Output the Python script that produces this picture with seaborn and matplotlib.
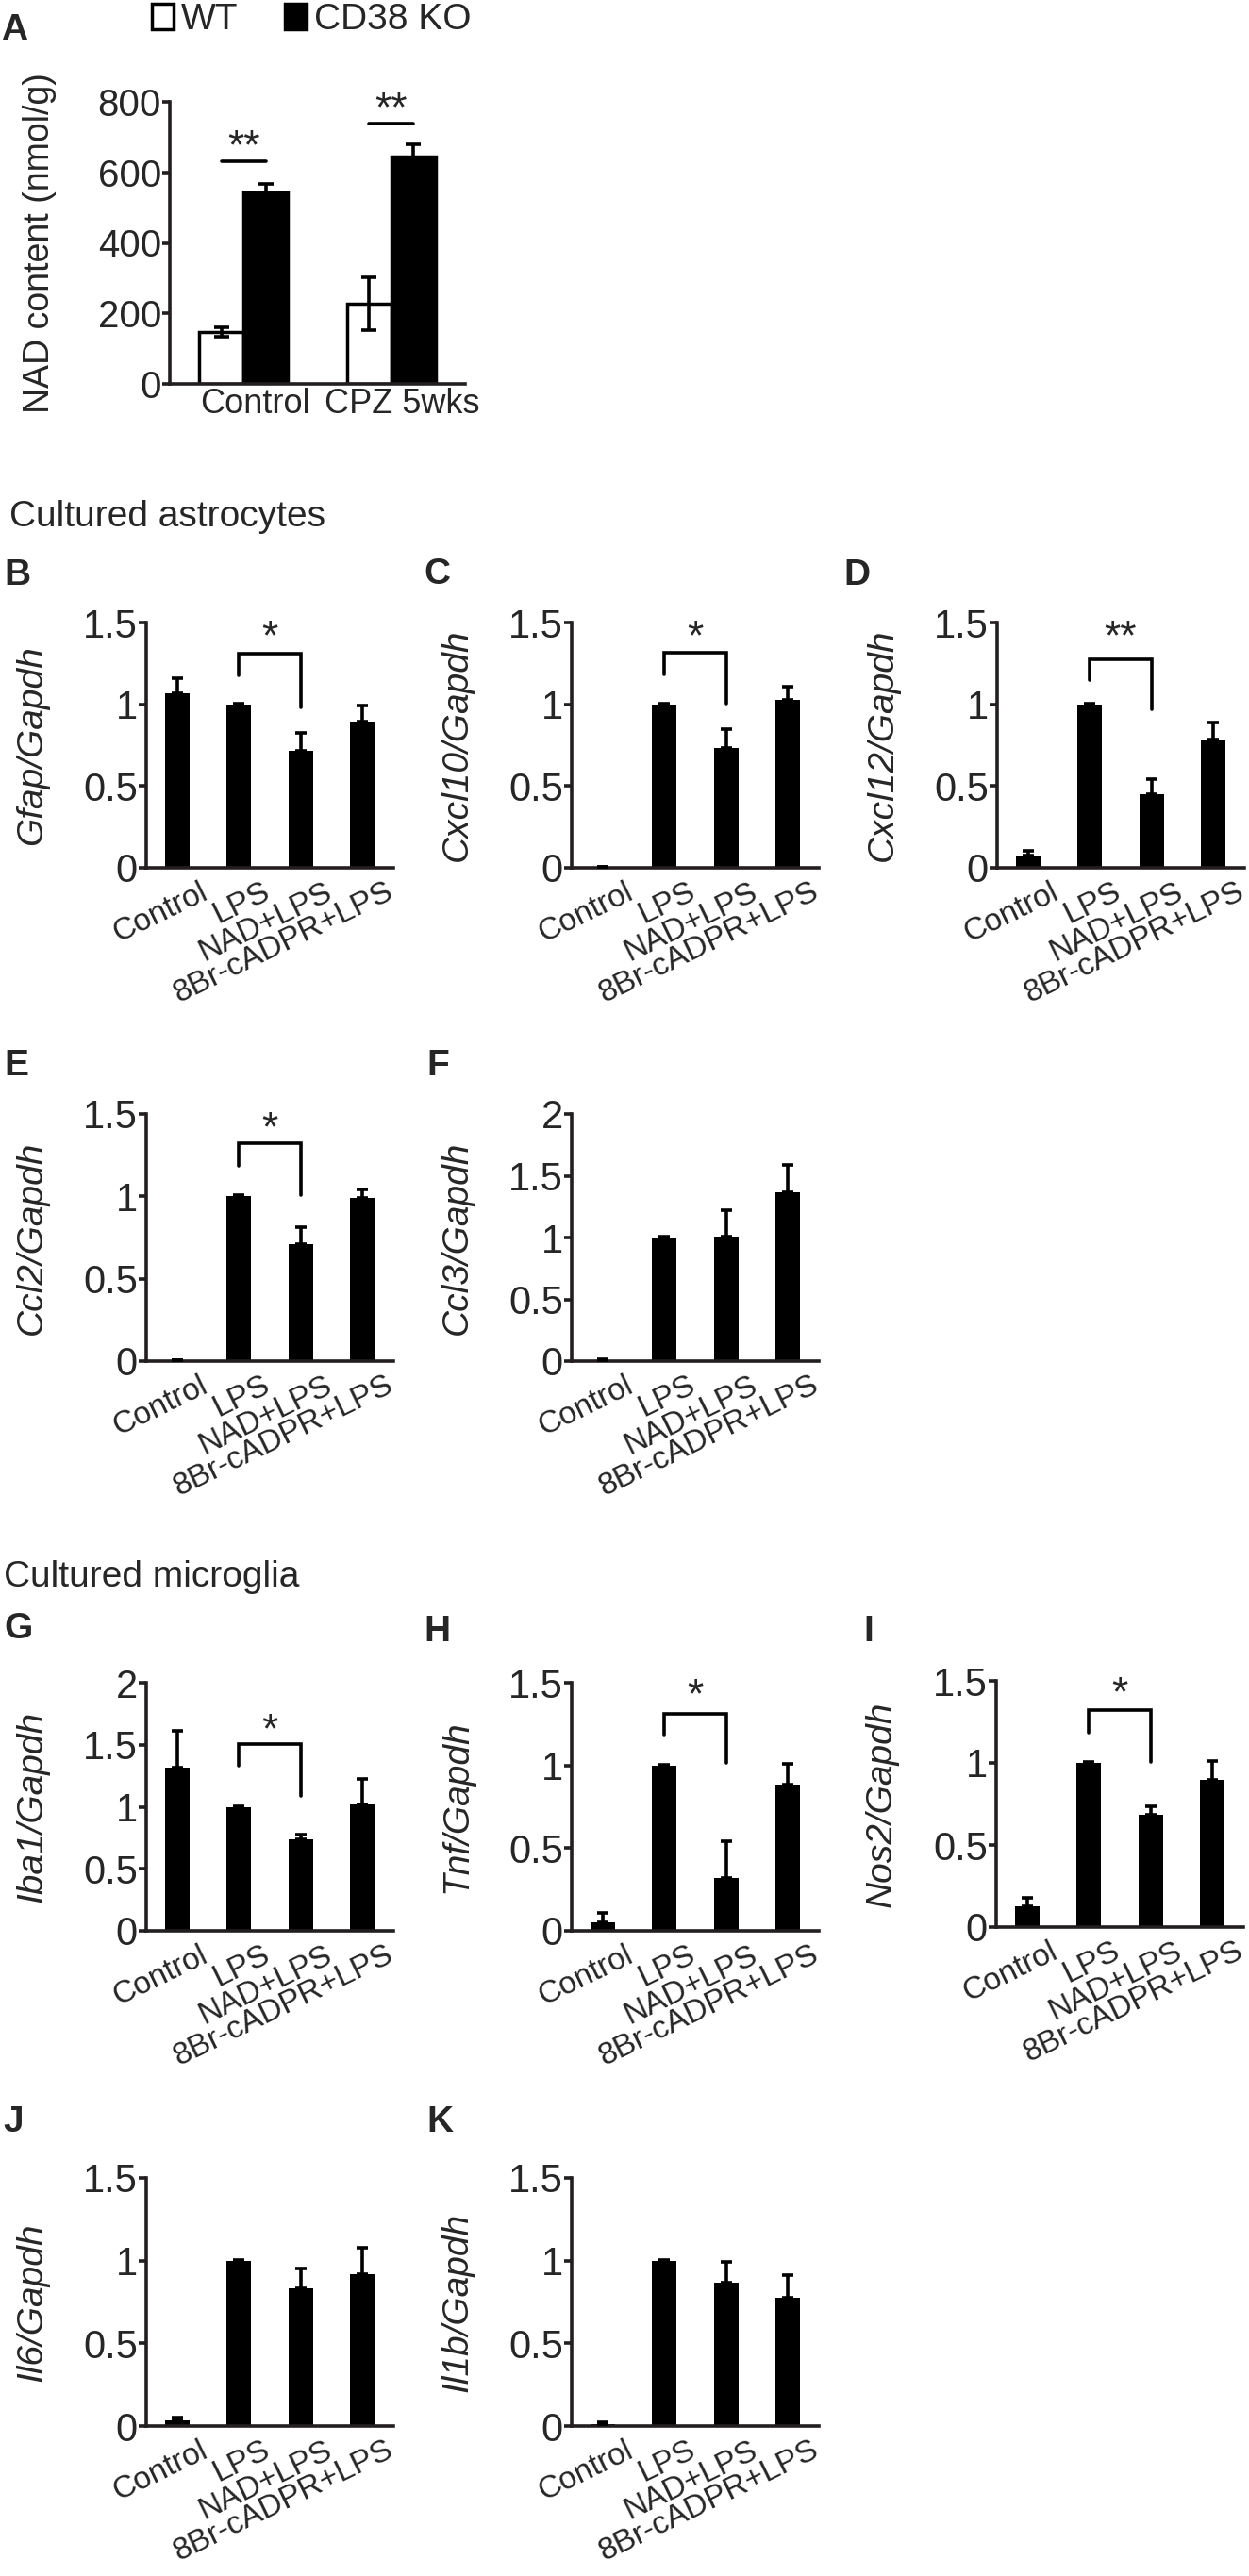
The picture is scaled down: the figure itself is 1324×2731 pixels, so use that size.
import numpy as np
import pandas as pd
import matplotlib
matplotlib.use("Agg")
import matplotlib.pyplot as plt
import seaborn as sns
from matplotlib.transforms import ScaledTranslation

# ---------------- data ----------------
a_conditions = ["Control", "CPZ 5wks"]
a_genotypes = ["WT", "CD38 KO"]
a_wt_mean = [147, 227]
a_wt_sem = [14, 75]
a_ko_mean = [543, 645]
a_ko_sem = [24, 35]
a_sig_line_y = [631, 738]
a_sig_star_y = [706, 813]
a_sig_label = ["**", "**"]
a_yticks = [0, 200, 400, 600, 800]

treatments = ["Control", "LPS", "NAD+LPS", "8Br-cADPR+LPS"]
yticks_15 = [0, 0.5, 1, 1.5]
yticks_2 = [0, 0.5, 1, 1.5, 2]

gfap_mean = [1.07, 1.0, 0.715, 0.894]
gfap_sem = [0.088, 0.005, 0.112, 0.096]
gfap_bracket = [1.31, 1.177, 0.98]
gfap_star = 1.48

cxcl10_mean = [0.003, 1.0, 0.73, 1.029]
cxcl10_sem = [0.002, 0.005, 0.116, 0.077]
cxcl10_bracket = [1.317, 1.183, 1.004]
cxcl10_star = 1.48

cxcl12_mean = [0.077, 1.0, 0.449, 0.784]
cxcl12_sem = [0.029, 0.005, 0.091, 0.102]
cxcl12_bracket = [1.277, 1.146, 0.969]
cxcl12_star = 1.48

ccl2_mean = [0.003, 1.0, 0.709, 0.99]
ccl2_sem = [0.002, 0.005, 0.105, 0.052]
ccl2_bracket = [1.321, 1.184, 1.008]
ccl2_star = 1.48

ccl3_mean = [0.01, 1.0, 1.007, 1.367]
ccl3_sem = [0.005, 0.005, 0.213, 0.22]

iba1_mean = [1.312, 1.0, 0.741, 1.02]
iba1_sem = [0.30, 0.005, 0.038, 0.203]
iba1_bracket = [1.508, 1.332, 1.091]
iba1_star = 1.71

tnf_mean = [0.054, 1.0, 0.321, 0.885]
tnf_sem = [0.057, 0.005, 0.22, 0.123]
tnf_bracket = [1.314, 1.185, 1.013]
tnf_star = 1.49

nos2_mean = [0.124, 1.0, 0.685, 0.899]
nos2_sem = [0.052, 0.005, 0.051, 0.114]
nos2_bracket = [1.319, 1.185, 1.004]
nos2_star = 1.49

il6_mean = [0.032, 1.0, 0.83, 0.92]
il6_sem = [0.021, 0.005, 0.125, 0.16]

il1b_mean = [0.01, 1.0, 0.869, 0.774]
il1b_sem = [0.01, 0.005, 0.126, 0.138]

# ---------------- style ----------------
sns.set_style("ticks")
plt.rcParams["font.family"] = ["Liberation Sans", "DejaVu Sans"]
SPINE = "#231f20"
LW = 2.6

W, H = 1324, 2731
fig = plt.figure(figsize=(W / 100, H / 100), dpi=100)


def add_ax(left, top, width, bottom):
    return fig.add_axes([left / W, 1 - bottom / H, width / W, (bottom - top) / H])


def style_axes(ax, ytick_size):
    for s in ["top", "right"]:
        ax.spines[s].set_visible(False)
    for s in ["left", "bottom"]:
        ax.spines[s].set_linewidth(LW)
        ax.spines[s].set_color(SPINE)
    ax.tick_params(axis="y", length=5.5, width=LW, color=SPINE, pad=1,
                   labelsize=ytick_size, direction="out")
    ax.tick_params(axis="x", length=0)


def flabel(x, y, s, **kw):
    fig.text(x / W, 1 - y / H, s, ha="left", va="baseline", **kw)


def px_offset(dx, dy):
    # offset in pixels (dy positive = downwards)
    return ScaledTranslation(dx / 100, -dy / 100, fig.dpi_scale_trans)


# ---------------- panel A ----------------
axA = add_ax(180, 108, 313, 407)
df_a = pd.DataFrame({
    "condition": a_conditions * 2,
    "genotype": [a_genotypes[0]] * 2 + [a_genotypes[1]] * 2,
    "value": a_wt_mean + a_ko_mean,
})
sns.barplot(data=df_a, x="condition", y="value", hue="genotype",
            order=a_conditions, hue_order=a_genotypes,
            palette={"WT": "white", "CD38 KO": "black"},
            width=0.6, saturation=1, errorbar=None, edgecolor="black",
            linewidth=2.5, ax=axA, legend=False)
centers = []
for cont, means, sems in zip(axA.containers, [a_wt_mean, a_ko_mean], [a_wt_sem, a_ko_sem]):
    xs = [b.get_x() + b.get_width() / 2 for b in cont]
    centers.append(xs)
    axA.errorbar(xs, means, yerr=sems, fmt="none", ecolor="black",
                 elinewidth=LW, capsize=5.5, capthick=LW, zorder=3)
for i in range(len(a_conditions)):
    x1, x2 = centers[0][i], centers[1][i]
    axA.plot([x1, x2], [a_sig_line_y[i], a_sig_line_y[i]], color="black",
             lw=LW, clip_on=False)
    axA.annotate(a_sig_label[i], xy=((x1 + x2) / 2, a_sig_star_y[i]),
                 xytext=(0, -18), textcoords="offset points", ha="center",
                 va="baseline", fontsize=32, annotation_clip=False)
axA.set_ylim(0, 800)
axA.set_xlim(-0.5, 1.5)
axA.set_yticks(a_yticks)
axA.set_yticklabels([str(t) for t in a_yticks])
axA.set_xlabel("")
axA.set_ylabel("NAD content (nmol/g)", fontsize=27)
axA.yaxis.set_label_coords(-120 / 313, 0.5)
style_axes(axA, 29)
axA.set_xticks(range(len(a_conditions)))
axA.set_xticklabels([])
for x, t in zip(axA.get_xticks(), a_conditions):
    axA.text(x, 0, t, transform=axA.get_xaxis_transform() + px_offset(12, 4),
             ha="center", va="top", fontsize=26, clip_on=False)

handles = [axA.containers[0][0], axA.containers[1][0]]
fig.legend(handles, a_genotypes, loc="center left",
           bbox_to_anchor=(161 / W, 1 - 21 / H), frameon=False, ncol=2,
           fontsize=28, handlelength=0.58, handleheight=0.7,
           handletextpad=0.2, columnspacing=1.3, borderpad=0,
           borderaxespad=0)

# ---------------- small panels ----------------
AXW = 262
panels = [
    # letter, gene, means, sems, yticks, bracket, star, sig, left, top, bottom, letter_x, letter_y
    ("B", "Gfap", gfap_mean, gfap_sem, yticks_15, gfap_bracket, gfap_star, "*", 155, 660, 920, 4, 620),
    ("C", "Cxcl10", cxcl10_mean, cxcl10_sem, yticks_15, cxcl10_bracket, cxcl10_star, "*", 606, 660, 920, 449, 619),
    ("D", "Cxcl12", cxcl12_mean, cxcl12_sem, yticks_15, cxcl12_bracket, cxcl12_star, "**", 1057, 660, 920, 894, 620),
    ("E", "Ccl2", ccl2_mean, ccl2_sem, yticks_15, ccl2_bracket, ccl2_star, "*", 155, 1181, 1443, 4, 1140),
    ("F", "Ccl3", ccl3_mean, ccl3_sem, yticks_2, None, None, None, 606, 1181, 1443, 452, 1140),
    ("G", "Iba1", iba1_mean, iba1_sem, yticks_2, iba1_bracket, iba1_star, "*", 155, 1784, 2047, 4, 1737),
    ("H", "Tnf", tnf_mean, tnf_sem, yticks_15, tnf_bracket, tnf_star, "*", 606, 1784, 2047, 449, 1740),
    ("I", "Nos2", nos2_mean, nos2_sem, yticks_15, nos2_bracket, nos2_star, "*", 1056, 1782, 2043, 915, 1740),
    ("J", "Il6", il6_mean, il6_sem, yticks_15, None, None, None, 155, 2309, 2572, 3, 2260),
    ("K", "Il1b", il1b_mean, il1b_sem, yticks_15, None, None, None, 606, 2309, 2572, 452, 2260),
]

for (letter, gene, means, sems, yt, bracket, star, sig, left, top, bottom, lx, ly) in panels:
    ax = add_ax(left, top, AXW, bottom)
    df = pd.DataFrame({"treatment": treatments, "value": means})
    sns.barplot(data=df, x="treatment", y="value", order=treatments,
                color="black", width=0.4, saturation=1, errorbar=None,
                linewidth=0, ax=ax)
    xs = np.array([p.get_x() + p.get_width() / 2 for p in ax.patches])
    ax.errorbar(xs, means, yerr=[np.zeros(len(means)), sems], fmt="none",
                ecolor="black", elinewidth=LW, capsize=4.5, capthick=LW,
                zorder=3)
    if bracket is not None:
        x1, x2 = xs[1], xs[2]
        ax.plot([x1, x1, x2, x2], [bracket[1], bracket[0], bracket[0], bracket[2]],
                color="black", lw=LW, clip_on=False, solid_joinstyle="miter")
        ax.annotate(sig, xy=((x1 + x2) / 2, star), xytext=(0, -18),
                    textcoords="offset points", ha="center", va="baseline",
                    fontsize=32, annotation_clip=False)
    ax.set_xlim(-0.5, 3.5)
    ax.set_ylim(0, yt[-1])
    ax.set_yticks(yt)
    ax.set_yticklabels([f"{t:g}" for t in yt])
    ax.set_xlabel("")
    ax.set_ylabel(f"{gene}/Gapdh", fontsize=28, style="italic")
    ax.yaxis.set_label_coords(-103 / AXW, 0.5)
    style_axes(ax, 30)
    ax.set_xticks(range(len(treatments)))
    ax.set_xticklabels([])
    for x, t in zip(ax.get_xticks(), treatments):
        ax.text(x, 0, t, transform=ax.get_xaxis_transform() + px_offset(24, 10),
                rotation=26, rotation_mode="anchor", ha="right", va="top",
                fontsize=24, clip_on=False)
    flabel(lx, ly, letter, fontsize=28, fontweight="bold")

# ---------------- figure texts ----------------
flabel(1, 42, "A", fontsize=28, fontweight="bold")
flabel(10, 558, "Cultured astrocytes", fontsize=28)
flabel(4, 1682, "Cultured microglia", fontsize=28)

fig.savefig("out.png", dpi=100, facecolor="white")
